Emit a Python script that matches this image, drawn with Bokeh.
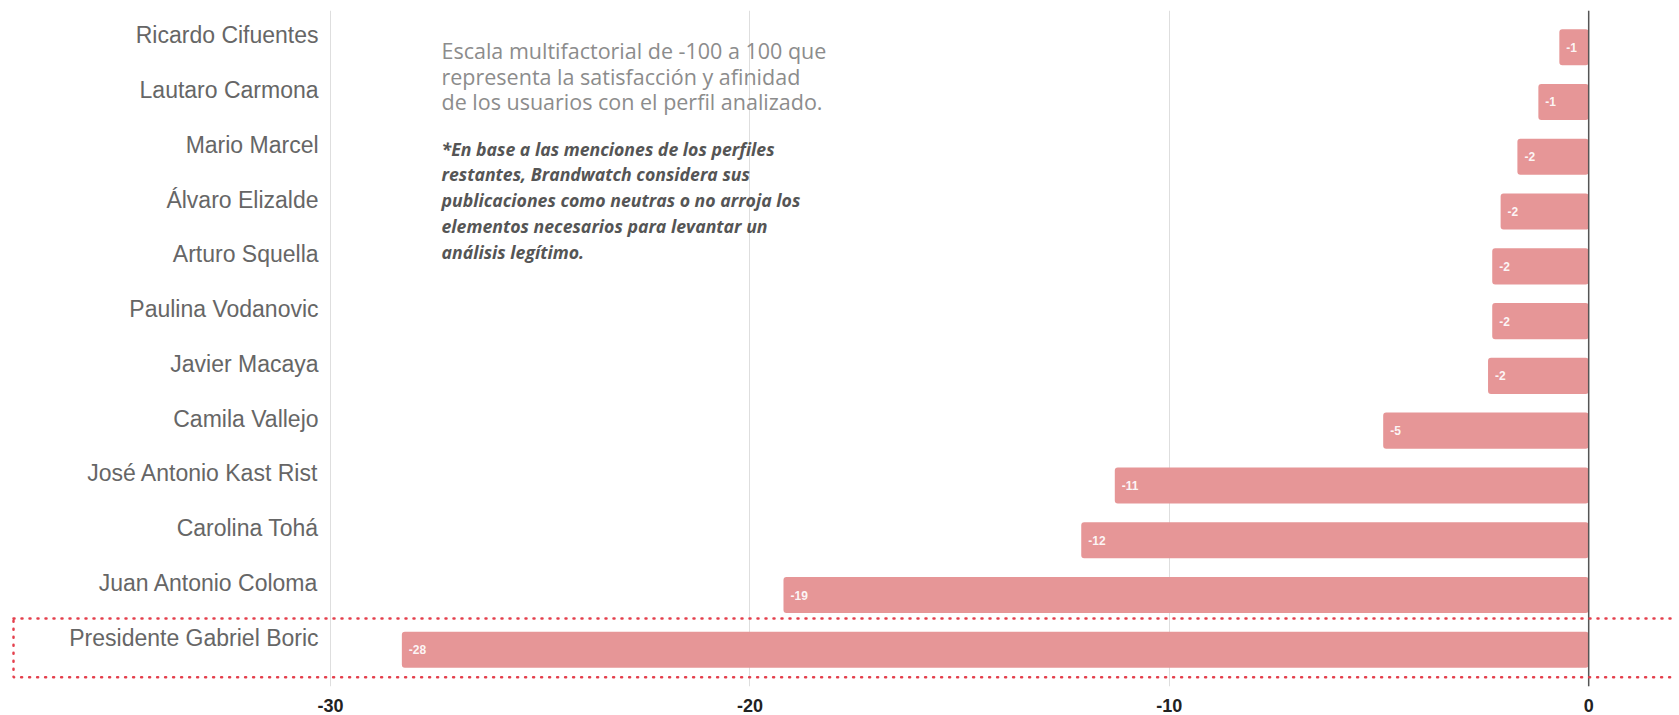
from bokeh.plotting import figure
from bokeh.models import ColumnDataSource, FactorRange, Range1d, FixedTicker, Span, Label, BoxAnnotation
from bokeh.core.properties import value
from bokeh.embed import file_html
from bokeh.resources import INLINE

names = ["Ricardo Cifuentes", "Lautaro Carmona", "Mario Marcel", "Álvaro Elizalde",
         "Arturo Squella", "Paulina Vodanovic", "Javier Macaya", "Camila Vallejo",
         "José Antonio Kast Rist", "Carolina Tohá", "Juan Antonio Coloma",
         "Presidente Gabriel Boric"]
scores = [-0.7, -1.2, -1.7, -2.1, -2.3, -2.3, -2.4, -4.9, -11.3, -12.1, -19.2, -28.3]
score_labels = ["-1", "-1", "-2", "-2", "-2", "-2", "-2", "-5", "-11", "-12", "-19", "-28"]
x_ticks = [-30, -20, -10, 0]
note_lines = ["Escala multifactorial de -100 a 100 que",
              "representa la satisfacción y afinidad",
              "de los usuarios con el perfil analizado."]
footnote_lines = ["*En base a las menciones de los perfiles",
                  "restantes, Brandwatch considera sus",
                  "publicaciones como neutras o no arroja los",
                  "elementos necesarios para levantar un",
                  "análisis legítimo."]

src = ColumnDataSource(dict(name=names, score=scores, lab=score_labels,
                            lx=[x_ticks[0]] * len(names)))

p = figure(width=1675, height=714, output_backend="svg", toolbar_location=None,
           y_range=FactorRange(factors=names[::-1], range_padding=0.17,
                               range_padding_units="absolute"),
           x_range=Range1d(-37.87, 2.07),
           min_border_left=0, min_border_right=0, min_border_top=10, min_border_bottom=0)
p.outline_line_color = None
p.background_fill_color = "white"
p.border_fill_color = "white"

p.hbar(y="name", right="score", left=0, height=0.66, source=src,
       fill_color="#E69697", line_color=None, border_radius=3)

p.text(x="score", y="name", text="lab", source=src, x_offset=7,
       text_baseline="middle", text_align="left", text_color="white", text_alpha=0.92,
       text_font=value("Liberation Sans"), text_font_size="12px",
       text_font_style="bold")

p.text(x="lx", y="name", text="name", source=src, x_offset=-12, y_offset=-12,
       text_baseline="middle", text_align="right", text_color="#666666",
       text_font=value("Liberation Sans"), text_font_size="23px")

p.yaxis.visible = False
p.ygrid.grid_line_color = None
p.xaxis.ticker = FixedTicker(ticks=x_ticks)
p.xaxis.major_label_overrides = {t: str(t) for t in x_ticks}
p.xgrid.ticker = FixedTicker(ticks=x_ticks)
p.xgrid.grid_line_color = "#dedede"
p.xgrid.grid_line_width = 1
p.xaxis.axis_line_color = None
p.xaxis.major_tick_line_color = None
p.xaxis.minor_tick_line_color = None
p.xaxis.major_tick_out = 0
p.xaxis.major_tick_in = 0
p.xaxis.minor_tick_out = 0
p.xaxis.major_label_standoff = 12
p.xaxis.major_label_text_font = "Liberation Sans"
p.xaxis.major_label_text_font_size = "18px"
p.xaxis.major_label_text_font_style = "bold"
p.xaxis.major_label_text_color = "#222222"

p.add_layout(Span(location=0, dimension="height", line_color="#555555", line_width=1.5))

p.add_layout(BoxAnnotation(left=13, left_units="screen", right=1700, right_units="screen",
                           bottom=0.0, top=1.07, fill_alpha=0, line_color="#E4404D",
                           line_alpha=1.0, line_width=2.5, line_dash="1 7",
                           line_cap="round", level="overlay"))

for i, t in enumerate(note_lines):
    p.add_layout(Label(x=441, y=636.2 - i * 25.7, x_units="screen", y_units="screen", text=t,
                       text_font="Open Sans", text_font_size="21.5px", text_color="#8c8c8c",
                       text_baseline="middle"))
for i, t in enumerate(footnote_lines):
    p.add_layout(Label(x=441, y=537.8 - i * 25.7, x_units="screen", y_units="screen", text=t,
                       text_font="Open Sans", text_font_size="17.7px", text_color="#555555",
                       text_font_style="bold italic", text_baseline="middle"))

open("out.html", "w").write(file_html(p, INLINE))
